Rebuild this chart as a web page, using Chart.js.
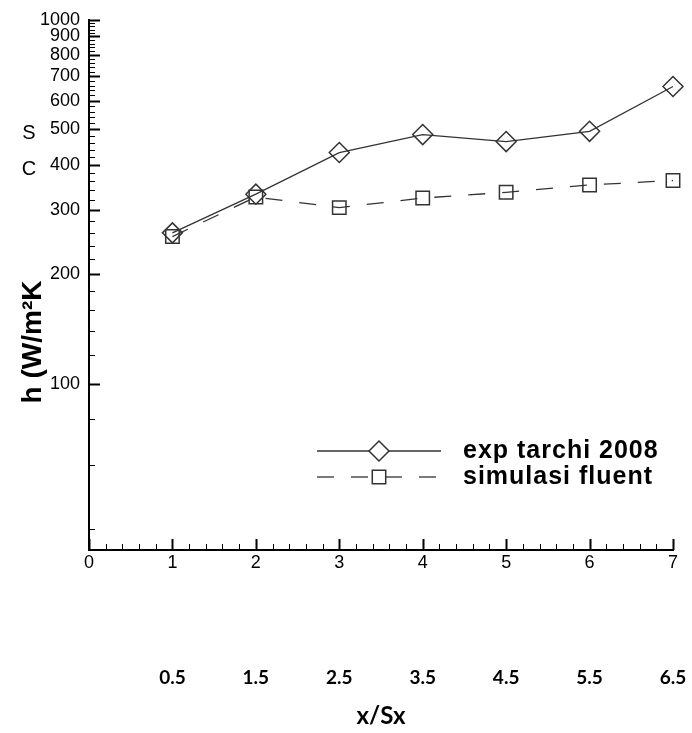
<!DOCTYPE html>
<html>
<head>
<meta charset="utf-8">
<style>
  html, body { margin: 0; padding: 0; background: #fff; }
  #wrap { width: 692px; height: 733px; position: relative; }
</style>
</head>
<body>
<div id="wrap"><canvas id="chart"></canvas></div>
<script src="https://cdn.jsdelivr.net/npm/chart.js"></script>
<script>
// tube rows along the x axis, and the x/Sx value written under each one
const positions = [1, 2, 3, 4, 5, 6, 7];
const spacingLabels = ["0.5", "1.5", "2.5", "3.5", "4.5", "5.5", "6.5"];

// h (W/m2K)
const expTarchi = [260, 332, 432, 484, 463, 494, 656];
const simFluent = [254, 326, 305, 324, 336, 352, 362];

// axis ticks
const xLabelTicks = [0, 1, 2, 3, 4, 5, 6, 7];
const yLabelTicks = [100, 200, 300, 400, 500, 600, 700, 800, 900, 1000];
const xMinorStep = 0.2;
const yMinorStep = 20;
const yMin = 35;
const yMax = 1000;

const isWhole = (v) => Math.abs(v - Math.round(v)) < 1e-6;

// tick marks point into the plot, long ones where there is a label
const insideTicks = {
  id: "insideTicks",
  afterDraw(chart) {
    const ctx = chart.ctx;
    const xs = chart.scales.x;
    const ys = chart.scales.y;
    ctx.save();
    ctx.strokeStyle = "#000";
    xs.ticks.forEach((t) => {
      const major = isWhole(t.value);
      const px = Math.round(xs.getPixelForValue(t.value)) + 0.5;
      ctx.lineWidth = major ? 2 : 1;
      ctx.beginPath();
      ctx.moveTo(px, xs.top);
      ctx.lineTo(px, xs.top - (major ? 11 : 6));
      ctx.stroke();
    });
    ys.ticks.forEach((t) => {
      const major = yLabelTicks.includes(t.value);
      const py = Math.round(ys.getPixelForValue(t.value)) + 0.5;
      ctx.lineWidth = major ? 2 : 1;
      ctx.beginPath();
      ctx.moveTo(ys.right, py);
      ctx.lineTo(ys.right + (major ? 11 : 6), py);
      ctx.stroke();
    });
    ctx.restore();
  },
};

// legend drawn inside the plot: line sample with the marker in the middle
const lineLegend = {
  id: "lineLegend",
  afterDraw(chart) {
    const ctx = chart.ctx;
    ctx.save();
    chart.data.datasets.forEach((ds, i) => {
      const y = 451 + i * 26;
      ctx.strokeStyle = ds.borderColor;
      ctx.lineWidth = ds.borderWidth;
      ctx.setLineDash(ds.borderDash || []);
      ctx.beginPath();
      ctx.moveTo(317, y);
      ctx.lineTo(441, y);
      ctx.stroke();
      ctx.setLineDash([]);
      ctx.fillStyle = "#fff";
      ctx.strokeStyle = ds.pointBorderColor;
      ctx.lineWidth = ds.pointBorderWidth;
      Chart.helpers.drawPoint(ctx, {
        pointStyle: ds.pointStyle,
        radius: ds.pointRadius,
        borderWidth: ds.pointBorderWidth,
        rotation: 0,
      }, 379, y);
      ctx.fillStyle = "#000";
      ctx.font = 'bold 25px "Liberation Sans"';
      ctx.letterSpacing = "1px";
      ctx.textBaseline = "middle";
      ctx.fillText(ds.label, 463, y);
      ctx.letterSpacing = "0px";
    });
    ctx.restore();
  },
};

// y title and the two stray letters next to the axis
const sideText = {
  id: "sideText",
  afterDraw(chart) {
    const ctx = chart.ctx;
    ctx.save();
    ctx.fillStyle = "#000";
    ctx.textAlign = "center";
    ctx.textBaseline = "middle";
    ctx.font = '20px "Liberation Sans"';
    ctx.fillText("S", 29, 133);
    ctx.fillText("C", 29, 169);
    ctx.translate(33, 342);
    ctx.rotate(-Math.PI / 2);
    ctx.font = 'bold 28px "Liberation Sans"';
    ctx.fillText("h (W/m\u00B2K", 0, 0);
    ctx.restore();
  },
};

const tickFont = { family: '"Liberation Sans"', size: 18 };

new Chart(document.getElementById("chart"), {
  type: "line",
  data: {
    datasets: [
      {
        label: "exp tarchi 2008",
        data: positions.map((p, i) => ({ x: p, y: expTarchi[i] })),
        borderColor: "#333",
        borderWidth: 1.3,
        pointStyle: "rectRot",
        pointRadius: 10,
        pointBorderWidth: 1.5,
        pointBorderColor: "#333",
        pointBackgroundColor: "rgba(0,0,0,0)",
        fill: false,
        tension: 0,
        clip: false,
      },
      {
        label: "simulasi fluent",
        data: positions.map((p, i) => ({ x: p, y: simFluent[i] })),
        borderColor: "#333",
        borderWidth: 1.3,
        borderDash: [17, 17],
        pointStyle: "rect",
        pointRadius: 9.5,
        pointBorderWidth: 1.5,
        pointBorderColor: "#333",
        pointBackgroundColor: "rgba(0,0,0,0)",
        fill: false,
        tension: 0,
        clip: false,
      },
    ],
  },
  options: {
    responsive: true,
    maintainAspectRatio: false,
    animation: false,
    layout: { padding: { top: 15, right: 19, bottom: 0, left: 0 } },
    plugins: { legend: { display: false }, tooltip: { enabled: false } },
    scales: {
      x: {
        type: "linear",
        position: "bottom",
        weight: 0,
        min: 0,
        max: 7,
        afterBuildTicks: (s) => {
          const t = [];
          for (let v = xLabelTicks[0]; v <= xLabelTicks[xLabelTicks.length - 1] + 1e-6; v += xMinorStep) {
            t.push({ value: Math.round(v * 10) / 10 });
          }
          s.ticks = t;
        },
        afterFit: (s) => { s.height = 25; },
        grid: { display: true, drawOnChartArea: false, drawTicks: false },
        border: { display: true, color: "#000", width: 2 },
        ticks: {
          autoSkip: false,
          maxRotation: 0,
          padding: 2,
          color: "#000",
          font: tickFont,
          callback: (v) => (isWhole(v) ? String(Math.round(v)) : ""),
        },
      },
      x2: {
        type: "linear",
        position: "bottom",
        weight: 1,
        min: 0,
        max: 7,
        afterBuildTicks: (s) => { s.ticks = positions.map((v) => ({ value: v })); },
        afterFit: (s) => { s.height = 158; },
        // invisible tick marks only push the labels down
        grid: { display: false, drawTicks: true, tickLength: 88 },
        border: { display: false },
        ticks: {
          autoSkip: false,
          maxRotation: 0,
          padding: 3,
          color: "#000",
          font: { family: "Lato", weight: "bold", size: 19 },
          callback: (v) => spacingLabels[positions.indexOf(v)],
        },
        title: {
          display: true,
          text: "x/Sx",
          color: "#000",
          font: { family: "Lato", weight: "bold", size: 24 },
          padding: { top: 0, bottom: 2 },
        },
      },
      y: {
        type: "logarithmic",
        bounds: "data",
        min: yMin,
        max: yMax,
        afterBuildTicks: (s) => {
          const t = [];
          for (let v = 40; v <= yMax; v += yMinorStep) t.push({ value: v });
          s.ticks = t;
        },
        afterFit: (s) => { s.width = 89; },
        grid: { display: true, drawOnChartArea: false, drawTicks: false },
        border: { display: true, color: "#000", width: 2 },
        ticks: {
          autoSkip: false,
          padding: 9,
          color: "#000",
          font: tickFont,
          callback: (v) => (yLabelTicks.includes(v) ? String(v) : ""),
        },
      },
    },
  },
  plugins: [insideTicks, lineLegend, sideText],
});
</script>
</body>
</html>
